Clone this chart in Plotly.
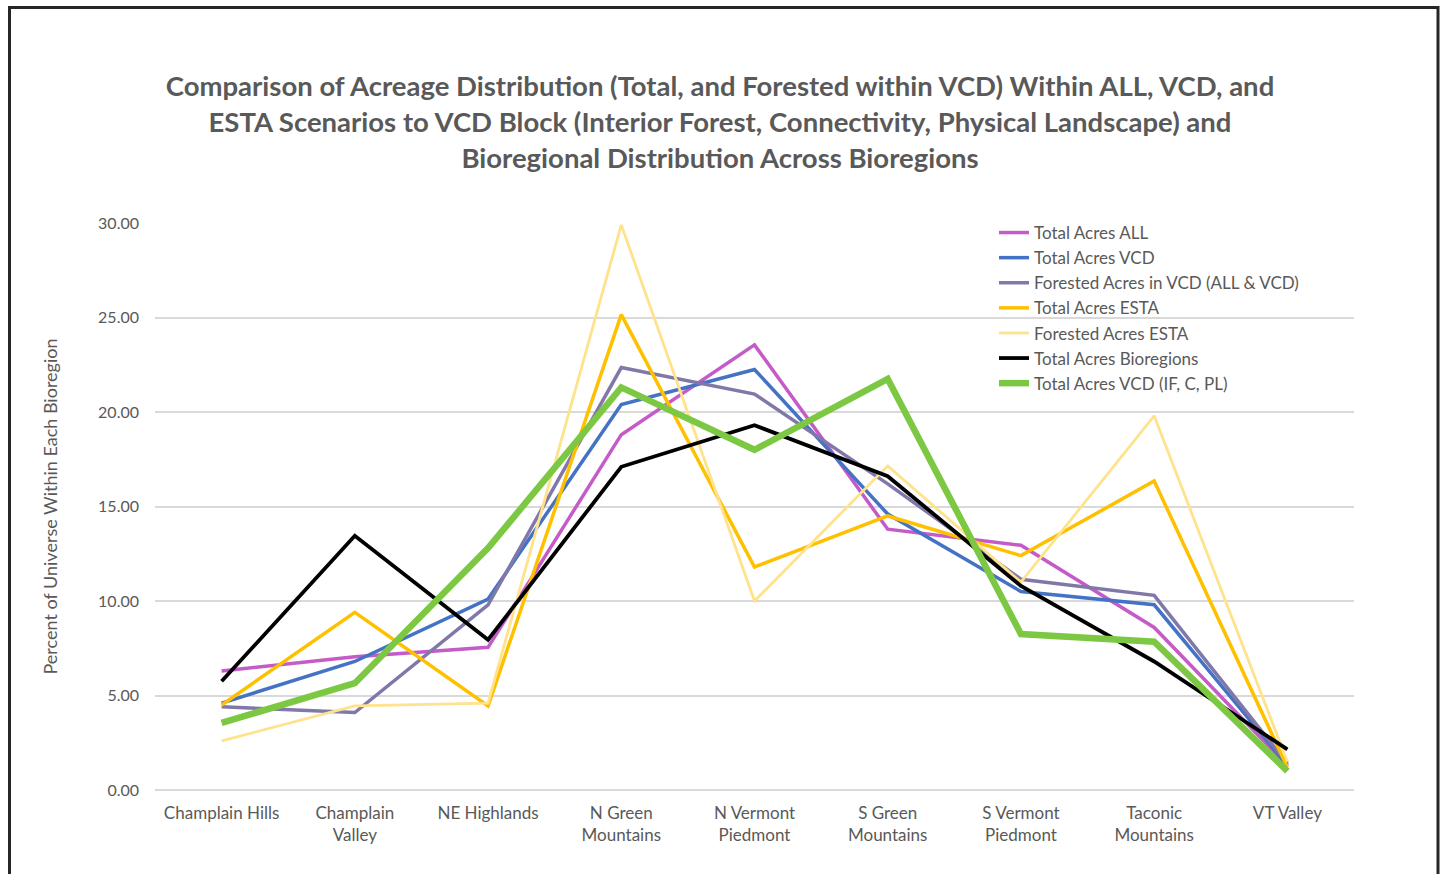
import plotly.graph_objects as go

# Bioregion categories along the x axis
bioregions = [
    "Champlain Hills", "Champlain<br>Valley", "NE Highlands", "N Green<br>Mountains",
    "N Vermont<br>Piedmont", "S Green<br>Mountains", "S Vermont<br>Piedmont",
    "Taconic<br>Mountains", "VT Valley",
]

# Percent of universe within each bioregion, per scenario
total_all = [6.3, 7.05, 7.55, 18.8, 23.55, 13.8, 12.95, 8.6, 1.3]
total_vcd = [4.6, 6.8, 10.1, 20.4, 22.25, 14.6, 10.5, 9.8, 1.3]
forested_vcd = [4.4, 4.1, 9.8, 22.35, 20.95, 16.2, 11.15, 10.3, 1.4]
total_esta = [4.5, 9.4, 4.45, 25.15, 11.8, 14.5, 12.4, 16.35, 1.2]
forested_esta = [2.6, 4.45, 4.6, 29.9, 10.0, 17.15, 11.0, 19.8, 1.5]
total_bioregions = [5.75, 13.45, 7.95, 17.1, 19.3, 16.6, 10.8, 6.8, 2.15]
total_vcd_ifcpl = [3.55, 5.65, 12.8, 21.3, 18.0, 21.75, 8.25, 7.85, 1.0]

y_ticks = [0, 5, 10, 15, 20, 25, 30]

series = [
    ("Total Acres ALL", total_all, "#C55BC8", 3.5),
    ("Total Acres VCD", total_vcd, "#4472C4", 3.5),
    ("Forested Acres in VCD (ALL & VCD)", forested_vcd, "#8078A8", 3.5),
    ("Total Acres ESTA", total_esta, "#FFC000", 3.5),
    ("Forested Acres ESTA", forested_esta, "#FFE28C", 2.8),
    ("Total Acres Bioregions", total_bioregions, "#000000", 3.8),
    ("Total Acres VCD (IF, C, PL)", total_vcd_ifcpl, "#7DC843", 6.5),
]

grey = "#595959"
font_family = "Lato, 'Open Sans', sans-serif"

fig = go.Figure()
for name, vals, color, width in series:
    fig.add_trace(go.Scatter(
        x=bioregions, y=vals, mode="lines", name=name,
        line=dict(color=color, width=width),
    ))

W, H = 1440, 874
m_l, m_r, m_t, m_b = 155, 86, 223, 84
pw = W - m_l - m_r
ph = H - m_t - m_b

def px_x(p):
    return (p - m_l) / pw

def px_y(p):
    return (H - m_b - p) / ph

fig.update_layout(
    width=W, height=H,
    margin=dict(l=m_l, r=m_r, t=m_t, b=m_b),
    paper_bgcolor="white", plot_bgcolor="white",
    font=dict(family=font_family, color=grey, size=16),
    title=dict(
        text="<b>Comparison of Acreage Distribution (Total, and Forested within VCD) Within ALL, VCD, and<br>"
             "ESTA Scenarios to VCD Block (Interior Forest, Connectivity, Physical Landscape) and<br>"
             "Bioregional Distribution Across Bioregions</b>",
        x=0.5, xref="container", xanchor="center",
        y=1 - 96 / H, yref="container", yanchor="top",
        font=dict(size=27.5, color=grey, family=font_family),
    ),
    xaxis=dict(
        showgrid=False, showline=False, ticks="",
        tickfont=dict(size=17, color=grey), ticklabelstandoff=11,
        range=[-0.5, len(bioregions) - 0.5],
    ),
    yaxis=dict(
        range=[0, 30], tickvals=y_ticks, tickformat=".2f",
        showgrid=True, gridcolor="#D9D9D9", gridwidth=1.5,
        zeroline=True, zerolinecolor="#D9D9D9", zerolinewidth=1.5,
        showline=False, ticks="", ticklabelstandoff=15,
        tickfont=dict(size=16, color=grey),
        title=dict(text="Percent of Universe Within Each Bioregion",
                   font=dict(size=18, color=grey), standoff=35),
    ),
    legend=dict(
        x=px_x(994), y=px_y(215), xanchor="left", yanchor="top",
        bgcolor="rgba(0,0,0,0)", font=dict(size=17, color=grey),
        tracegroupgap=0,
    ),
    shapes=[
        dict(type="rect", xref="paper", yref="paper",
             x0=px_x(9.5), x1=px_x(1438), y0=px_y(900), y1=px_y(7.5),
             line=dict(color="#262626", width=3), fillcolor="rgba(0,0,0,0)",
             layer="below"),
    ],
)

fig.write_html("out.html")
